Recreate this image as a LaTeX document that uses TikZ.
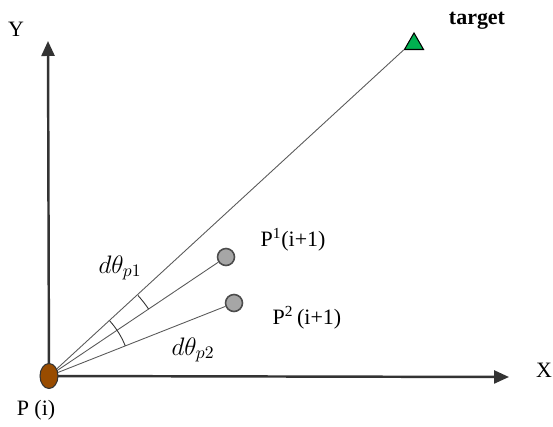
\documentclass[tikz,border=0pt]{standalone}
\usepackage{fontspec}
\setmainfont{Liberation Serif}
\usetikzlibrary{arrows.meta}
\usetikzlibrary{positioning}
\usetikzlibrary{shapes, shapes.geometric}

\definecolor{brownpt}{RGB}{153,76,0}
\definecolor{greentgt}{RGB}{0,176,80}
\definecolor{graypt}{RGB}{166,166,166}

\begin{document}
\begin{tikzpicture}[x=0.02cm, y=0.02cm, every node/.style={font=\fontsize{12.5}{15}\selectfont}, axis/.style={draw=black!80, line width=1.4pt, -{Triangle[length=0.3cm, width=0.26cm]}}, ray/.style={draw=black!65, line width=0.5pt}, angarc/.style={draw=black!80, line width=0.5pt}, nextpt/.style={circle, draw=black!70, fill=graypt, line width=0.9pt, minimum size=0.34cm, inner sep=0pt}]

\useasboundingbox (0,0) rectangle (553,426);

\coordinate (o) at (49,50);
\node[nextpt] (p1) at (226,169) {};
\node[nextpt] (p2) at (234,123) {};
\node[regular polygon, regular polygon sides=3, draw=black, fill=greentgt, line width=0.6pt, minimum size=0.44cm, inner sep=0pt] (tgt) at (414,382) {};

% axes and rays
\coordinate (ytip) at (48,385);
\coordinate (xtip) at (509,49);
\draw[axis] (o) -- (ytip);
\draw[axis] (o) -- (xtip);
\draw[ray] (o) -- (tgt.corner 2);
\draw[ray] (o) -- (p1);
\draw[ray] (o) -- (p2);

% angles
\draw[angarc] ([shift={(42.2:120)}]o) arc[start angle=42.2, end angle=33.9, radius=120];
\draw[angarc] ([shift={(42.2:82)}]o) arc[start angle=42.2, end angle=21.5, radius=82];

\node[ellipse, draw=black!80, fill=brownpt, line width=0.6pt, minimum width=0.36cm, minimum height=0.5cm, inner sep=0pt] (pi) at (o) {};

\node (ylbl) at (16,397) {Y};
\node (xlbl) at (544,56) {X};
\node[font=\fontsize{12.5}{15}\selectfont\bfseries] (tlbl) at (477,405) {target};
\node (pilbl) at (36,16) {P (i)};
\node (p1lbl) at (293,186) {P\textsuperscript{1}(i+1)};
\node (p2lbl) at (307,108) {P\textsuperscript{2}\,(i+1)};
\node[font=\fontsize{14}{16}\selectfont] (d1lbl) at (120,158) {$d\theta_{p1}$};
\node[font=\fontsize{14}{16}\selectfont] (d2lbl) at (193,76) {$d\theta_{p2}$};

\end{tikzpicture}
\end{document}
